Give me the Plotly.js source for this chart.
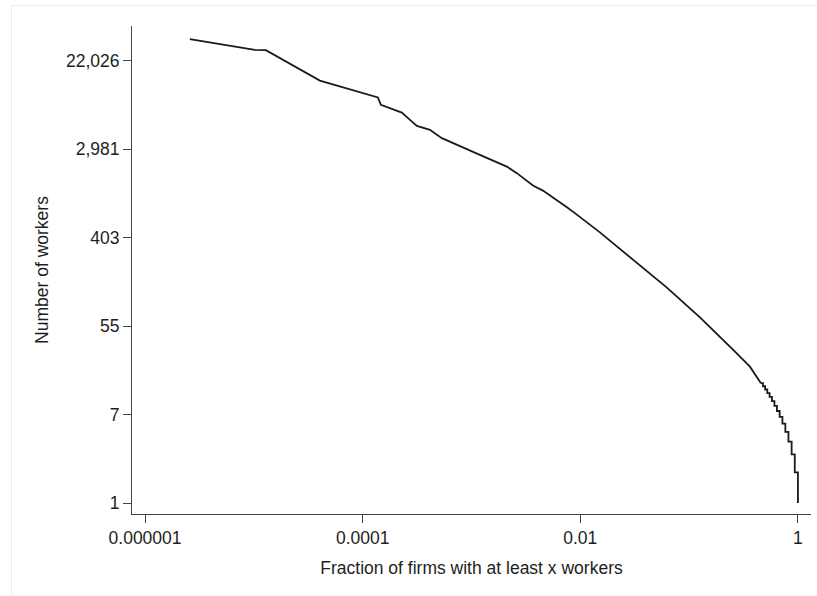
<!DOCTYPE html>
<html>
<head>
<meta charset="utf-8">
<script src="https://cdn.plot.ly/plotly-3.0.1.min.js"></script>
<style>
  html, body { margin: 0; padding: 0; background: #ffffff; }
  #wrap { position: relative; width: 817px; height: 596px; overflow: hidden; }
  #chart { position: absolute; left: 0; top: 0; width: 817px; height: 596px; }
  #frame { position: absolute; left: 11px; top: 5px; width: 820px; height: 600px;
           border-left: 1px solid #ececec; border-top: 1px solid #ececec;
           pointer-events: none; }
</style>
</head>
<body>
<div id="wrap">
  <div id="chart"></div>
  <div id="frame"></div>
</div>
<script>
// Firm-size distribution: share of firms with at least x workers (log-log).

// Small firms: integer head counts, drawn as a staircase.
const stepWorkers  = [1, 2, 3, 4, 5, 6, 7, 8, 9, 10, 11, 12, 13, 14, 15];
const stepFraction = [1, 0.935, 0.875, 0.818, 0.766, 0.720, 0.679, 0.641,
                      0.608, 0.577, 0.549, 0.523, 0.499, 0.477, 0.457];

// Larger firms: the upper tail of the distribution.
const tailWorkers  = [15, 21.8, 31.8, 53.8, 66.3, 130.6, 243, 453, 724, 800,
                      1165, 1305, 1728, 2006, 2613, 2973, 3530, 3812, 4597,
                      5033, 5762, 6793, 8085, 9583, 14000, 27860, 28050, 35730];
const tailFraction = [0.457, 0.362, 0.2542, 0.1553, 0.1257, 0.0621, 0.03045,
                      0.01514, 0.00855, 0.00753, 0.00453, 0.00367, 0.00261, 0.00211,
                      0.001194, 0.000907, 0.000633, 0.000534, 0.000415, 0.000315,
                      0.000272, 0.000229, 0.000147, 0.000138, 4.04e-5, 1.29e-5,
                      1.02e-5, 2.58e-6];

// Axis ticks: powers of ten on x, even powers of e on y.
const xTickVals   = [1e-6, 1e-4, 1e-2, 1];
const xTickText   = ['0.000001', '0.0001', '0.01', '1'];
const yTickVals   = [1, 7.389056, 54.59815, 403.4288, 2980.958, 22026.47];
const yTickText   = ['1', '7', '55', '403', '2,981', '22,026'];

const lineStyle = { color: '#1a1a1a', width: 1.8 };
const font = { family: 'Liberation Sans, Arial, sans-serif', size: 17.5, color: '#1e1e1e' };

const traces = [
  { x: stepFraction, y: stepWorkers, type: 'scatter', mode: 'lines',
    line: Object.assign({ shape: 'vh' }, lineStyle), hoverinfo: 'x+y' },
  { x: tailFraction, y: tailWorkers, type: 'scatter', mode: 'lines',
    line: Object.assign({ shape: 'linear' }, lineStyle), hoverinfo: 'x+y' }
];

const axisCommon = {
  type: 'log', showgrid: false, zeroline: false, showline: true,
  linecolor: '#444', linewidth: 1, ticks: 'outside', ticklen: 8,
  tickcolor: '#444', tickwidth: 1, tickfont: font, tickmode: 'array'
};

const layout = {
  width: 817, height: 596,
  margin: { l: 132, r: 6, t: 26, b: 82 },
  paper_bgcolor: '#ffffff', plot_bgcolor: '#ffffff',
  showlegend: false, font: font,
  xaxis: Object.assign({}, axisCommon, {
    range: [-6.12, 0.12],
    tickvals: xTickVals, ticktext: xTickText,
    title: { text: 'Fraction of firms with at least x workers', font: font, standoff: 14 }
  }),
  yaxis: Object.assign({}, axisCommon, {
    range: [-0.108, 4.682],
    tickvals: yTickVals, ticktext: yTickText,
    title: { text: 'Number of workers', font: font, standoff: 12 }
  })
};

Plotly.newPlot('chart', traces, layout, { displayModeBar: false, staticPlot: true });
</script>
</body>
</html>
